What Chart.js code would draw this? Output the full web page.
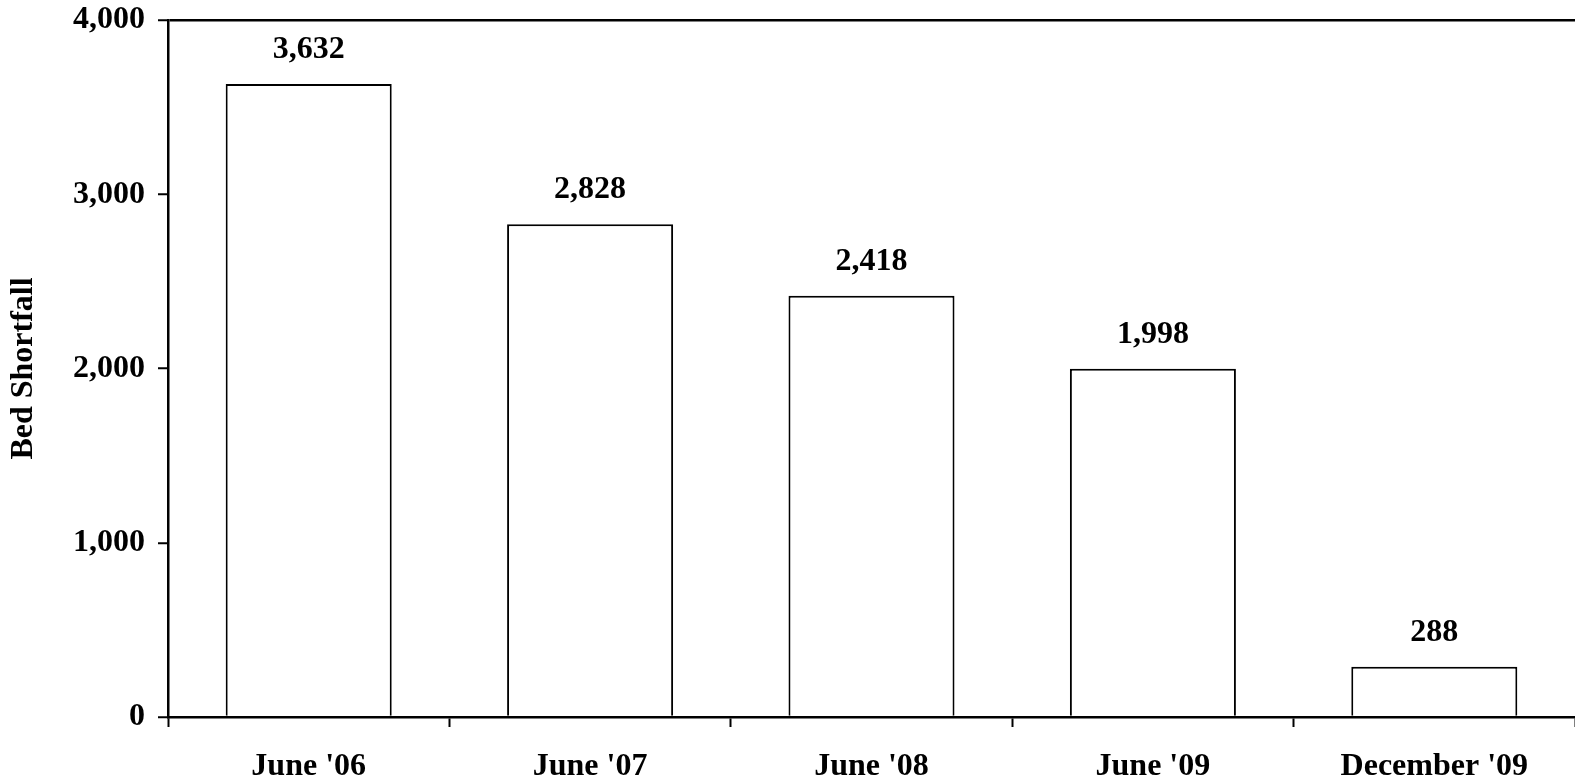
<!DOCTYPE html>
<html>
<head>
<meta charset="utf-8">
<script src="https://cdn.jsdelivr.net/npm/chart.js@4/dist/chart.umd.min.js"></script>
<style>
  html, body { margin: 0; padding: 0; background: #fff; }
  #wrap { width: 1575px; height: 781px; }
</style>
</head>
<body>
<div id="wrap"><canvas id="bedChart" width="1575" height="781"></canvas></div>
<script>
const periods = ["June '06", "June '07", "June '08", "June '09", "December '09"];
const shortfall = [3632, 2828, 2418, 1998, 288];
const yTicks = [0, 1000, 2000, 3000, 4000];

const fontFamily = '"Liberation Serif", "Times New Roman", serif';

// value labels above each bar
const barLabels = {
    id: 'barLabels',
    afterDatasetsDraw(chart) {
        const ctx = chart.ctx;
        const meta = chart.getDatasetMeta(0);
        ctx.save();
        ctx.font = 'bold 32px ' + fontFamily;
        ctx.fillStyle = '#000';
        ctx.textAlign = 'center';
        ctx.textBaseline = 'middle';
        meta.data.forEach(function(bar, i) {
            ctx.fillText(shortfall[i].toLocaleString('en-US'), bar.x, bar.y - 34);
        });
        ctx.restore();
    }
};

const config = {
    type: 'bar',
    data: {
        labels: periods,
        datasets: [{
            label: 'Bed Shortfall',
            data: shortfall,
            backgroundColor: '#fff',
            borderColor: '#000',
            borderWidth: 2,
            barPercentage: 0.59,
            categoryPercentage: 1
        }]
    },
    options: {
        responsive: false,
        animation: false,
        layout: { padding: { top: 20, right: 0, left: 0, bottom: 0 } },
        scales: {
            x: {
                afterFit: function(s) { s.height = 64; s.paddingLeft = 0; s.paddingRight = 0; },
                border: { color: '#000', width: 2.5 },
                grid: {
                    offset: true,
                    color: 'rgba(0,0,0,0)',
                    tickColor: '#000',
                    tickLength: 10,
                    tickWidth: 2
                },
                ticks: {
                    color: '#000',
                    padding: 21,
                    maxRotation: 0,
                    font: { family: fontFamily, size: 32, weight: 'bold' }
                }
            },
            y: {
                min: 0,
                max: 4000,
                afterFit: function(s) { s.width = 168; s.paddingTop = 0; s.paddingBottom = 0; },
                afterBuildTicks: function(s) { s.ticks = yTicks.map(v => ({ value: v })); },
                border: { color: '#000', width: 2.5 },
                grid: {
                    color: function(c) { return c.tick && c.tick.value === 4000 ? '#000' : 'rgba(0,0,0,0)'; },
                    lineWidth: 2.5,
                    tickColor: '#000',
                    tickLength: 10,
                    tickWidth: 2
                },
                ticks: {
                    color: '#000',
                    padding: 13,
                    font: { family: fontFamily, size: 32, weight: 'bold' },
                    callback: function(v) { return v.toLocaleString('en-US'); }
                },
                title: {
                    display: true,
                    text: 'Bed Shortfall',
                    color: '#000',
                    padding: { top: 5, bottom: 0 },
                    font: { family: fontFamily, size: 32, weight: 'bold' }
                }
            }
        },
        plugins: {
            legend: { display: false },
            tooltip: { enabled: false }
        }
    },
    plugins: [barLabels]
};

new Chart(document.getElementById('bedChart'), config);
</script>
</body>
</html>
